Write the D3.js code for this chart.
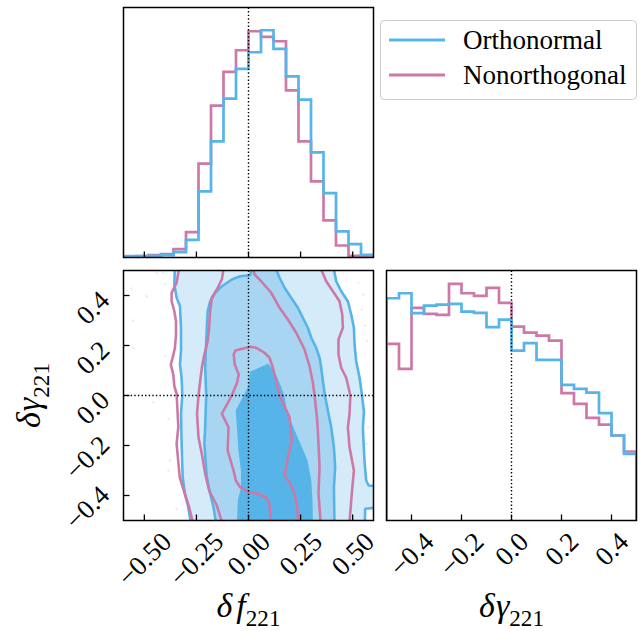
<!DOCTYPE html>
<html><head><meta charset="utf-8">
<script src="https://cdn.jsdelivr.net/npm/d3@7"></script>
<style>
body{margin:0;background:#fff}
text{font-family:"Liberation Serif","Times New Roman",serif;fill:#000}
</style>
</head><body>
<svg id="c" width="641" height="631"></svg>
<script>
// ---------------- DATA ----------------
const seriesNames = ["Orthonormal", "Nonorthogonal"];
const seriesColors = ["#56B4E9", "#CC79A7"];

// delta f221 histogram (20 bins over [-0.6, 0.6])
const fEdges = [-0.6,-0.54,-0.48,-0.42,-0.36,-0.3,-0.24,-0.18,-0.12,-0.06,0,0.06,0.12,0.18,0.24,0.3,0.36,0.42,0.48,0.54,0.6];
const fOrtho = [4,4,5,7,16,53,198,348,476,565,615,681,625,543,473,315,193,78,40,8];
const fNonorth = [3,4,7,10,25,76,281,455,556,621,678,661,648,501,348,228,111,36,5,3];

// delta gamma221 histogram (20 bins over [-0.5, 0.5])
const gEdges = [-0.5,-0.45,-0.4,-0.35,-0.3,-0.25,-0.2,-0.15,-0.1,-0.05,0,0.05,0.1,0.15,0.2,0.25,0.3,0.35,0.4,0.45,0.5];
const gOrtho = [667,682,622,645,648,650,627,623,580,603,510,532,482,482,407,395,384,322,255,200];
const gNonorth = [530,455,638,620,617,710,682,674,698,653,582,564,555,540,382,350,308,288,255,207];

// 2D contours [delta f, delta gamma]
const orthoOuter = [[-0.278,-0.53],[-0.278,-0.505],[-0.289,-0.447],[-0.305,-0.393],[-0.316,-0.327],[-0.321,-0.193],[-0.324,-0.073],[-0.318,0.0],[-0.321,0.071],[-0.329,0.124],[-0.324,0.178],[-0.324,0.271],[-0.329,0.358],[-0.345,0.391],[-0.356,0.444],[-0.353,0.53],
  [0.405,0.53],[0.410,0.504],[0.421,0.457],[0.445,0.417],[0.477,0.377],[0.493,0.324],[0.506,0.271],[0.509,0.204],[0.517,0.137],[0.533,0.071],[0.545,0.0],[0.554,-0.065],[0.549,-0.131],[0.557,-0.265],[0.565,-0.340],[0.577,-0.360],[0.63,-0.364],[0.63,-0.447],[0.56,-0.453],[0.558,-0.53]];
const orthoMiddle = [[-0.155,-0.53],[-0.157,-0.505],[-0.168,-0.447],[-0.184,-0.393],[-0.200,-0.327],[-0.212,-0.193],[-0.208,-0.127],[-0.203,0.0],[-0.208,0.111],[-0.205,0.178],[-0.200,0.271],[-0.196,0.337],[-0.184,0.377],[-0.160,0.411],[-0.128,0.437],[-0.080,0.464],[-0.040,0.477],[0.008,0.481],[0.025,0.53],
  [0.130,0.53],[0.133,0.504],[0.149,0.471],[0.173,0.431],[0.205,0.391],[0.237,0.351],[0.261,0.311],[0.285,0.271],[0.301,0.231],[0.325,0.191],[0.341,0.151],[0.349,0.111],[0.357,0.058],[0.367,0.0],[0.381,-0.06],[0.397,-0.127],[0.410,-0.207],[0.416,-0.287],[0.410,-0.367],[0.413,-0.53]];
const orthoInner = [[-0.05,-0.53],[-0.045,-0.42],[-0.03,-0.37],[-0.03,-0.30],[-0.042,-0.22],[-0.05,-0.12],[-0.055,-0.06],[-0.016,0.0],[0.007,0.04],[0.013,0.091],[0.093,0.121],[0.125,0.084],[0.149,0.037],[0.165,0.0],[0.181,-0.073],[0.229,-0.167],[0.277,-0.26],[0.295,-0.34],[0.301,-0.42],[0.303,-0.53]];
const nonOuter = [[-0.266,-0.53],[-0.268,-0.505],[-0.285,-0.447],[-0.306,-0.393],[-0.330,-0.327],[-0.345,-0.193],[-0.337,-0.127],[-0.34,-0.073],[-0.345,0.007],[-0.356,0.037],[-0.361,0.084],[-0.373,0.124],[-0.364,0.151],[-0.353,0.191],[-0.348,0.244],[-0.348,0.297],[-0.356,0.337],[-0.369,0.377],[-0.369,0.411],[-0.345,0.451],[-0.334,0.504],[-0.333,0.53],
  [0.347,0.53],[0.349,0.504],[0.373,0.457],[0.405,0.417],[0.437,0.377],[0.450,0.324],[0.453,0.271],[0.432,0.224],[0.432,0.164],[0.445,0.111],[0.469,0.071],[0.489,0.0],[0.485,-0.073],[0.477,-0.127],[0.485,-0.207],[0.506,-0.3],[0.497,-0.38],[0.485,-0.505],[0.485,-0.53]];
const nonMiddle = [[-0.128,-0.53],[-0.128,-0.505],[-0.152,-0.44],[-0.189,-0.38],[-0.208,-0.313],[-0.221,-0.247],[-0.240,-0.167],[-0.247,-0.073],[-0.240,0.0],[-0.232,0.058],[-0.224,0.111],[-0.212,0.164],[-0.196,0.217],[-0.189,0.271],[-0.184,0.337],[-0.176,0.391],[-0.152,0.424],[-0.128,0.464],[-0.120,0.504],[-0.118,0.53],
  [0.018,0.53],[0.029,0.484],[0.061,0.457],[0.109,0.411],[0.149,0.351],[0.189,0.304],[0.229,0.251],[0.269,0.184],[0.293,0.117],[0.309,0.051],[0.317,0.0],[0.330,-0.1],[0.336,-0.193],[0.341,-0.287],[0.336,-0.393],[0.346,-0.505],[0.346,-0.53]];
const nonInner = [[0.106,-0.53],[0.106,-0.505],[0.101,-0.433],[0.085,-0.407],[0.045,-0.393],[0.0,-0.385],[-0.040,-0.367],[-0.061,-0.34],[-0.072,-0.3],[-0.1,-0.22],[-0.096,-0.127],[-0.128,-0.073],[-0.08,0.0],[-0.055,0.051],[-0.047,0.084],[-0.066,0.124],[-0.071,0.164],[-0.063,0.18],[0.008,0.195],[0.037,0.191],[0.077,0.171],[0.101,0.151],[0.117,0.111],[0.133,0.058],[0.149,0.0],[0.197,-0.087],[0.208,-0.18],[0.186,-0.26],[0.173,-0.32],[0.202,-0.353],[0.221,-0.393],[0.234,-0.447],[0.24,-0.53]];

// faint scattered samples outside the contours
const orthoDots = [[-0.441,0.491],[-0.41,0.491],[-0.561,0.428],[-0.401,0.447],[-0.553,0.30],[-0.553,0.191],[-0.456,-0.027],[-0.384,-0.093],[-0.377,-0.26],[0.528,0.451],[0.552,0.404],[0.568,0.218],[0.575,-0.127],[0.567,-0.193]];
const nonDots = [[-0.489,0.397],[-0.401,0.158],[-0.384,-0.3],[-0.345,-0.453],[0.544,0.344],[0.56,0.28]];

// ticks
const fTicks = [-0.5,-0.25,0,0.25,0.5];
const fTickLabels = ["\u22120.50","\u22120.25","0.00","0.25","0.50"];
const gTicks = [-0.4,-0.2,0,0.2,0.4];
const gTickLabels = ["\u22120.4","\u22120.2","0.0","0.2","0.4"];
const truthF = 0, truthG = 0;

// ---------------- LAYOUT ----------------
const svg = d3.select("#c");
const S = 250;
const L0 = 123.5, T0 = 7.5, T1 = 270.5, R0 = 386.5;
const blue = seriesColors[0], pink = seriesColors[1];
const fillLight = "#d5ebf9", fillMid = "#a8d5f1", fillDark = "#56b4e9";
const tickFs = 27, labFs = 34;

const xF = d3.scaleLinear().domain([-0.6,0.6]).range([L0, L0+S]);
const yG = d3.scaleLinear().domain([-0.5,0.5]).range([T1+S, T1]);
const xG = d3.scaleLinear().domain([-0.5,0.5]).range([R0, R0+S]);
const yTop = d3.scaleLinear().domain([0, 1.1*d3.max(fOrtho)]).range([T0+S, T0]);
const yRight = d3.scaleLinear().domain([0, 1.1*d3.max(gOrtho)]).range([T1+S, T1]);

const defs = svg.append("defs");
function clip(id, x, y){ defs.append("clipPath").attr("id", id).append("rect").attr("x", x).attr("y", y).attr("width", S).attr("height", S); return "url(#"+id+")"; }
const cTop = clip("cTop", L0, T0), c2d = clip("c2d", L0, T1), cRight = clip("cRight", R0, T1);

function stepPts(edges, vals){
  const p = [[edges[0], 0]];
  vals.forEach((v,i)=>{ p.push([edges[i], v]); p.push([edges[i+1], v]); });
  p.push([edges[edges.length-1], 0]);
  return p;
}
const dotted = (g, x1,y1,x2,y2) => g.append("line").attr("x1",x1).attr("y1",y1).attr("x2",x2).attr("y2",y2)
  .attr("stroke","#000").attr("stroke-width",1.4).attr("stroke-dasharray","1.4,2.2");

// ---- Top histogram ----
const gTop = svg.append("g").attr("clip-path", cTop);
const lineTop = d3.line().x(d=>xF(d[0])).y(d=>yTop(d[1]));
[[fNonorth,pink],[fOrtho,blue]].forEach(([v,c])=>{
  gTop.append("path").attr("d", lineTop(stepPts(fEdges, v))).attr("fill","none").attr("stroke",c).attr("stroke-width",2.7);
});
dotted(gTop, xF(truthF), T0, xF(truthF), T0+S);

// ---- 2D panel ----
const g2 = svg.append("g").attr("clip-path", c2d);
const line2 = d3.line().x(d=>xF(d[0])).y(d=>yG(d[1]));
g2.selectAll(".od").data(orthoDots).join("circle").attr("cx",d=>xF(d[0])).attr("cy",d=>yG(d[1])).attr("r",1.3).attr("fill",blue).attr("opacity",0.18);
g2.selectAll(".nd").data(nonDots).join("circle").attr("cx",d=>xF(d[0])).attr("cy",d=>yG(d[1])).attr("r",1.3).attr("fill",pink).attr("opacity",0.18);
[[orthoOuter,fillLight],[orthoMiddle,fillMid],[orthoInner,fillDark]].forEach(([p,c])=>{
  g2.append("path").attr("d", line2(p)+"Z").attr("fill",c).attr("stroke","none");
});
[orthoOuter, orthoMiddle, orthoInner].forEach(p=>{
  g2.append("path").attr("d", line2(p)+"Z").attr("fill","none").attr("stroke",blue).attr("stroke-width",2.6).attr("stroke-linejoin","round");
});
[nonOuter, nonMiddle, nonInner].forEach(p=>{
  g2.append("path").attr("d", line2(p)+"Z").attr("fill","none").attr("stroke",pink).attr("stroke-width",2.6).attr("stroke-linejoin","round");
});
dotted(g2, xF(truthF), T1, xF(truthF), T1+S);
dotted(g2, L0, yG(truthG), L0+S, yG(truthG));

// ---- Right histogram ----
const gR = svg.append("g").attr("clip-path", cRight);
const lineR = d3.line().x(d=>xG(d[0])).y(d=>yRight(d[1]));
[[gNonorth,pink],[gOrtho,blue]].forEach(([v,c])=>{
  gR.append("path").attr("d", lineR(stepPts(gEdges, v))).attr("fill","none").attr("stroke",c).attr("stroke-width",2.7);
});
dotted(gR, xG(truthG), T1, xG(truthG), T1+S);

// ---- Frames and ticks ----
function frame(x,y){ svg.append("rect").attr("x",x).attr("y",y).attr("width",S).attr("height",S).attr("fill","none").attr("stroke","#000").attr("stroke-width",1.5); }
frame(L0,T0); frame(L0,T1); frame(R0,T1);
const tickLen = 6;
function xticks(scale, ticks, ybot){
  ticks.forEach(t=> svg.append("line").attr("x1",scale(t)).attr("x2",scale(t)).attr("y1",ybot).attr("y2",ybot-tickLen).attr("stroke","#000").attr("stroke-width",1.3));
}
xticks(xF, fTicks, T0+S); xticks(xF, fTicks, T1+S); xticks(xG, gTicks, T1+S);
gTicks.forEach(t=> svg.append("line").attr("x1",L0).attr("x2",L0+tickLen).attr("y1",yG(t)).attr("y2",yG(t)).attr("stroke","#000").attr("stroke-width",1.3));

// rotated tick labels (bbox-centred, 45 deg)
function rotLabel(txt, mode, pos, edge){
  const g = svg.append("g");
  const t = g.append("text").attr("text-anchor","middle").attr("y", 0.34*tickFs).attr("font-size", tickFs).text(txt);
  const L = t.node().getComputedTextLength();
  const ext = (L + 0.68*tickFs) * Math.SQRT1_2;
  if (mode === "x") g.attr("transform", `translate(${pos},${edge + ext/2}) rotate(-45)`);
  else g.attr("transform", `translate(${edge - ext/2},${pos + 12}) rotate(-45)`);
}
fTicks.forEach((t,i)=> rotLabel(fTickLabels[i], "x", xF(t), T1+S+10));
gTicks.forEach((t,i)=> rotLabel(gTickLabels[i], "x", xG(t), T1+S+10));
gTicks.forEach((t,i)=> rotLabel(gTickLabels[i], "y", yG(t), L0-12.5));

// axis labels
function axLabel(x, y, sym, rot){
  const t = svg.append("text").attr("font-size", labFs).attr("text-anchor","middle")
    .attr("transform", `translate(${x},${y})` + (rot ? " rotate(-90)" : ""));
  t.append("tspan").attr("font-style","italic").text(sym[0]);
  t.append("tspan").attr("font-style","italic").attr("dx", sym[1]==="f" ? 4 : 1).text(sym[1]);
  t.append("tspan").attr("font-size", labFs*0.68).attr("dy", 0.25*labFs).text("221");
}
axLabel(L0+S/2, 617, ["\u03b4","f"], false);
axLabel(R0+S/2, 617, ["\u03b4","\u03b3"], false);
axLabel(40, T1+S/2, ["\u03b4","\u03b3"], true);

// legend
const lg = svg.append("g");
lg.append("rect").attr("x",380.5).attr("y",20.5).attr("width",256).attr("height",79).attr("rx",4)
  .attr("fill","#fff").attr("fill-opacity",0.8).attr("stroke","#cccccc").attr("stroke-width",1);
seriesNames.forEach((n,i)=>{
  const y = 40 + i*35;
  lg.append("line").attr("x1",389).attr("x2",445).attr("y1",y).attr("y2",y).attr("stroke",seriesColors[i]).attr("stroke-width",3);
  lg.append("text").attr("x",463).attr("y",y+9).attr("font-size",27).text(n);
});
</script>
</body></html>
